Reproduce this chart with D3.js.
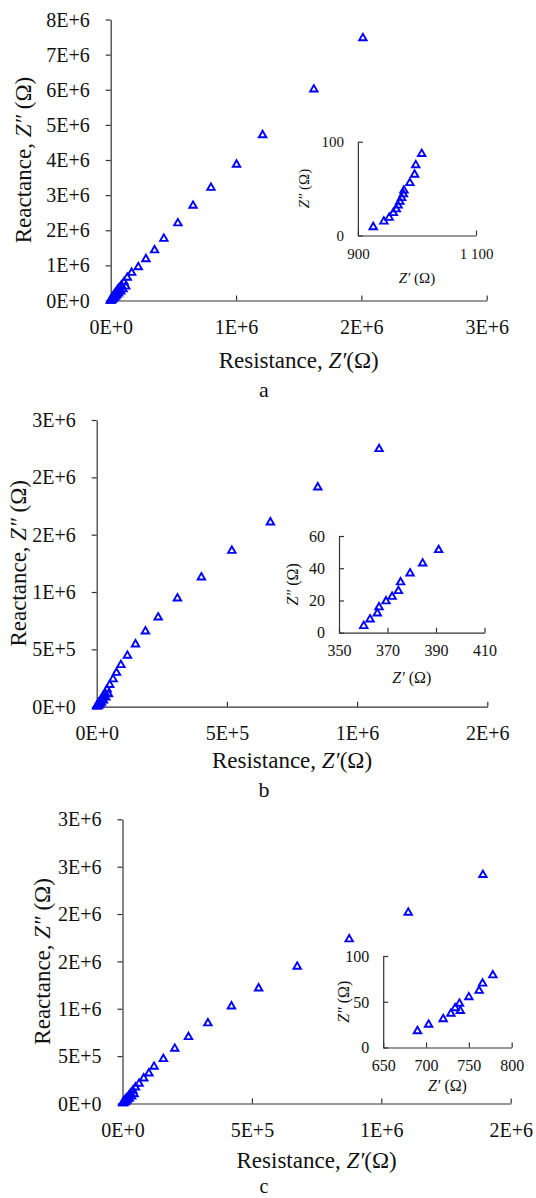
<!DOCTYPE html>
<html><head><meta charset="utf-8">
<script src="https://cdn.jsdelivr.net/npm/d3@7"></script>
<style>body{margin:0;background:#fff}svg{display:block}</style>
</head><body><svg id="chart" width="536" height="1198"></svg>
<script>
// ---------- DATA ----------
// Panel a – main Nyquist data (Ω)
const aRe = [2.012e6,1.621e6,1.212e6,1.004e6,0.800e6,0.657e6,0.536e6,0.424e6,0.350e6,0.281e6,0.220e6,0.167e6,0.132e6,0.106e6,0.085e6,0.068e6,0.055e6,0.044e6,0.034e6,0.026e6,0.020e6,0.015e6,0.011e6,0.008e6,0.0055e6,0.0035e6,0.002e6,0.001e6,0.0005e6,0.0002e6,0.120e6,0.098e6,0.080e6,0.064e6,0.050e6,0.038e6,0.028e6,0.020e6,0.013e6,0.008e6,0.004e6,0.0015e6];
const aIm = [7.47e6,6.01e6,4.71e6,3.87e6,3.21e6,2.70e6,2.20e6,1.76e6,1.43e6,1.18e6,0.95e6,0.79e6,0.65e6,0.52e6,0.43e6,0.36e6,0.30e6,0.24e6,0.19e6,0.15e6,0.115e6,0.087e6,0.065e6,0.048e6,0.035e6,0.025e6,0.017e6,0.011e6,0.006e6,0.003e6,0.40e6,0.32e6,0.26e6,0.20e6,0.15e6,0.11e6,0.08e6,0.055e6,0.035e6,0.02e6,0.01e6,0.004e6];
// Panel a – inset
const aInRe = [926,944,953,960,965,968,971,974,977,978,988,996,998,1008];
const aInIm = [9,15,19,24,28,32,36,40,44,48,56,65,75,87];

// Panel b – main
const bRe = [1.0845e6,0.849e6,0.667e6,0.519e6,0.402e6,0.310e6,0.236e6,0.187e6,0.149e6,0.118e6,0.093e6,0.076e6,0.063e6,0.050e6,0.040e6,0.032e6,0.025e6,0.019e6,0.014e6,0.010e6,0.007e6,0.005e6,0.003e6,0.002e6,0.001e6,0.0005e6,0.045e6,0.035e6,0.026e6,0.018e6,0.012e6,0.007e6,0.003e6];
const bIm = [2.247e6,1.913e6,1.608e6,1.360e6,1.128e6,0.945e6,0.779e6,0.657e6,0.544e6,0.445e6,0.364e6,0.296e6,0.240e6,0.190e6,0.150e6,0.118e6,0.092e6,0.070e6,0.053e6,0.040e6,0.030e6,0.021e6,0.014e6,0.009e6,0.005e6,0.002e6,0.110e6,0.080e6,0.056e6,0.036e6,0.021e6,0.010e6,0.004e6];
// Panel b – inset
const bInRe = [360.2,362.8,365.8,366.5,369.4,371.9,374.5,375.4,379.3,384.5,391.1];
const bInIm = [4.2,8.3,12,15.8,19.5,22.3,25.9,31.3,36.8,43.0,51.3];

// Panel c – main
const cRe = [1.3926e6,1.104e6,0.876e6,0.675e6,0.526e6,0.421e6,0.330e6,0.255e6,0.202e6,0.158e6,0.122e6,0.102e6,0.082e6,0.064e6,0.050e6,0.040e6,0.031e6,0.024e6,0.018e6,0.013e6,0.009e6,0.006e6,0.004e6,0.002e6,0.001e6,0.045e6,0.035e6,0.026e6,0.018e6,0.012e6,0.007e6,0.003e6];
const cIm = [2.413e6,2.015e6,1.734e6,1.445e6,1.216e6,1.026e6,0.847e6,0.702e6,0.579e6,0.470e6,0.389e6,0.319e6,0.266e6,0.210e6,0.170e6,0.135e6,0.105e6,0.080e6,0.060e6,0.045e6,0.032e6,0.022e6,0.014e6,0.008e6,0.004e6,0.100e6,0.075e6,0.052e6,0.034e6,0.020e6,0.010e6,0.004e6];
// Panel c – inset
const cInRe = [690,703,720,729,734,739,740,750,762,766,778];
const cInIm = [18,25,31,37,43,48,40,55,62,70,79];

// Tick values & labels
const aXTicks = [0,1e6,2e6,3e6];
const aXLabels = ["0E+0","1E+6","2E+6","3E+6"];
const aYTicks = [0,1e6,2e6,3e6,4e6,5e6,6e6,7e6,8e6];
const aYLabels = ["0E+0","1E+6","2E+6","3E+6","4E+6","5E+6","6E+6","7E+6","8E+6"];
const aInXTicks = [900,1100];
const aInXLabels = ["900","1 100"];
const aInYTicks = [0,100];
const aInYLabels = ["0","100"];

const bXTicks = [0,5e5,1e6,1.5e6];
const bXLabels = ["0E+0","5E+5","1E+6","2E+6"];
const bYTicks = [0,5e5,1e6,1.5e6,2e6,2.5e6];
const bYLabels = ["0E+0","5E+5","1E+6","2E+6","2E+6","3E+6"];
const bInXTicks = [350,370,390,410];
const bInXLabels = ["350","370","390","410"];
const bInYTicks = [0,20,40,60];
const bInYLabels = ["0","20","40","60"];

const cXTicks = [0,5e5,1e6,1.5e6];
const cXLabels = ["0E+0","5E+5","1E+6","2E+6"];
const cYTicks = [0,5e5,1e6,1.5e6,2e6,2.5e6,3e6];
const cYLabels = ["0E+0","5E+5","1E+6","2E+6","2E+6","3E+6","3E+6"];
const cInXTicks = [650,700,750,800];
const cInXLabels = ["650","700","750","800"];
const cInYTicks = [0,50,100];
const cInYLabels = ["0","50","100"];

const panelLetters = ["a","b","c"];

// ---------- LAYOUT ----------
const FONT = "'Liberation Serif','Times New Roman',serif";
const svg = d3.select("#chart");
const BLUE = "#0000ff";
const AX = "#333";

const panels = [
  { re:aRe, im:aIm, xT:aXTicks, xL:aXLabels, yT:aYTicks, yL:aYLabels, xMax:3e6, yMax:8e6,
    px:[110.7,486.7], py:[300.5,19.5], yTitleX:31, xTitleY:367.5, letterY:397, letterFs:22,
    inRe:aInRe, inIm:aInIm, ixT:aInXTicks, ixL:aInXLabels, iyT:aInYTicks, iyL:aInYLabels,
    ixDom:[900,1100], iyDom:[0,100], ipx:[357.9,476], ipy:[235.5,141.7], ifs:15,
    iyTitleX:309, ixTitleY:283 },
  { re:bRe, im:bIm, xT:bXTicks, xL:bXLabels, yT:bYTicks, yL:bYLabels, xMax:1.5e6, yMax:2.5e6,
    px:[96.7,487.3], py:[706.7,420], yTitleX:25.7, xTitleY:768, letterY:797, letterFs:22,
    inRe:bInRe, inIm:bInIm, ixT:bInXTicks, ixL:bInXLabels, iyT:bInYTicks, iyL:bInYLabels,
    ixDom:[350,410], iyDom:[0,60], ipx:[339,484.5], ipy:[632.7,536], ifs:16,
    iyTitleX:298, ixTitleY:683 },
  { re:cRe, im:cIm, xT:cXTicks, xL:cXLabels, yT:cYTicks, yL:cYLabels, xMax:1.5e6, yMax:3e6,
    px:[122.5,510.7], py:[1103.5,819.3], yTitleX:49.7, xTitleY:1167.5, letterY:1193, letterFs:20,
    inRe:cInRe, inIm:cInIm, ixT:cInXTicks, ixL:cInXLabels, iyT:cInYTicks, iyL:cInYLabels,
    ixDom:[650,800], iyDom:[0,100], ipx:[383.2,511.7], ipy:[1047.5,956], ifs:16,
    iyTitleX:348.6, ixTitleY:1091 }
];

const tri = d3.symbol().type(d3.symbolTriangle).size(24);

function styleAxis(g){
  g.attr("font-family",FONT);
  g.select(".domain").attr("stroke",AX).attr("stroke-width",1.2);
  g.selectAll(".tick line").attr("stroke",AX).attr("stroke-width",1.2);
  g.selectAll(".tick text").attr("fill","#111").attr("font-family",FONT);
}

function drawPoints(g, re, im, x, y){
  g.selectAll("path.pt").data(re.map((r,i)=>[r,im[i]])).join("path")
    .attr("class","pt")
    .attr("d",tri)
    .attr("transform",d=>`translate(${x(d[0])},${y(d[1])})`)
    .attr("fill","none").attr("stroke",BLUE).attr("stroke-width",1.9);
}

panels.forEach((p,pi)=>{
  const g = svg.append("g");
  const x = d3.scaleLinear().domain([0,p.xMax]).range(p.px);
  const y = d3.scaleLinear().domain([0,p.yMax]).range(p.py);

  // main x axis (ticks inside / upward)
  const gx = g.append("g").attr("transform",`translate(0,${p.py[0]})`)
    .call(d3.axisBottom(x).tickValues(p.xT).tickFormat((d,i)=>p.xL[i]).tickSizeInner(-5).tickSizeOuter(0));
  styleAxis(gx);
  gx.selectAll(".tick text").attr("font-size",20).attr("y",33).attr("dy",null);

  // main y axis (ticks outside)
  const gy = g.append("g").attr("transform",`translate(${p.px[0]},0)`)
    .call(d3.axisLeft(y).tickValues(p.yT).tickFormat((d,i)=>p.yL[i]).tickSizeInner(5).tickSizeOuter(0));
  styleAxis(gy);
  gy.selectAll(".tick text").attr("font-size",20).attr("x",-21).attr("dy","0.33em");

  // titles
  const yt = g.append("text")
    .attr("transform",`translate(${p.yTitleX},${(p.py[0]+p.py[1])/2}) rotate(-90)`)
    .attr("text-anchor","middle").attr("font-family",FONT).attr("font-size",23).attr("fill","#111");
  yt.append("tspan").text("Reactance, ");
  yt.append("tspan").attr("font-style","italic").text("Z″");
  yt.append("tspan").text(" (Ω)");

  const xt = g.append("text")
    .attr("x",(p.px[0]+p.px[1])/2).attr("y",p.xTitleY)
    .attr("text-anchor","middle").attr("font-family",FONT).attr("font-size",23).attr("fill","#111");
  xt.append("tspan").text("Resistance, ");
  xt.append("tspan").attr("font-style","italic").text("Z′");
  xt.append("tspan").text("(Ω)");

  g.append("text").attr("x",264).attr("y",p.letterY).attr("text-anchor","middle")
    .attr("font-family",FONT).attr("font-size",p.letterFs).attr("fill","#111").text(panelLetters[pi]);

  drawPoints(g.append("g"), p.re, p.im, x, y);

  // inset
  const ix = d3.scaleLinear().domain(p.ixDom).range(p.ipx);
  const iy = d3.scaleLinear().domain(p.iyDom).range(p.ipy);
  const igx = g.append("g").attr("transform",`translate(0,${p.ipy[0]})`)
    .call(d3.axisBottom(ix).tickValues(p.ixT).tickFormat((d,i)=>p.ixL[i]).tickSizeInner(-5).tickSizeOuter(0));
  styleAxis(igx);
  igx.selectAll(".tick text").attr("font-size",p.ifs).attr("y",23).attr("dy",null);
  const igy = g.append("g").attr("transform",`translate(${p.ipx[0]},0)`)
    .call(d3.axisLeft(iy).tickValues(p.iyT).tickFormat((d,i)=>p.iyL[i]).tickSizeInner(-5).tickSizeOuter(0));
  styleAxis(igy);
  igy.selectAll(".tick text").attr("font-size",p.ifs).attr("x",-14).attr("dy","0.33em");

  const iyt = g.append("text")
    .attr("transform",`translate(${p.iyTitleX},${(p.ipy[0]+p.ipy[1])/2}) rotate(-90)`)
    .attr("text-anchor","middle").attr("font-family",FONT).attr("font-size",p.ifs).attr("fill","#111");
  iyt.append("tspan").attr("font-style","italic").text("Z″");
  iyt.append("tspan").text(" (Ω)");
  const ixt = g.append("text")
    .attr("x",(p.ipx[0]+p.ipx[1])/2).attr("y",p.ixTitleY)
    .attr("text-anchor","middle").attr("font-family",FONT).attr("font-size",p.ifs).attr("fill","#111");
  ixt.append("tspan").attr("font-style","italic").text("Z′");
  ixt.append("tspan").text(" (Ω)");

  drawPoints(g.append("g"), p.inRe, p.inIm, ix, iy);
});
</script>
</body></html>
